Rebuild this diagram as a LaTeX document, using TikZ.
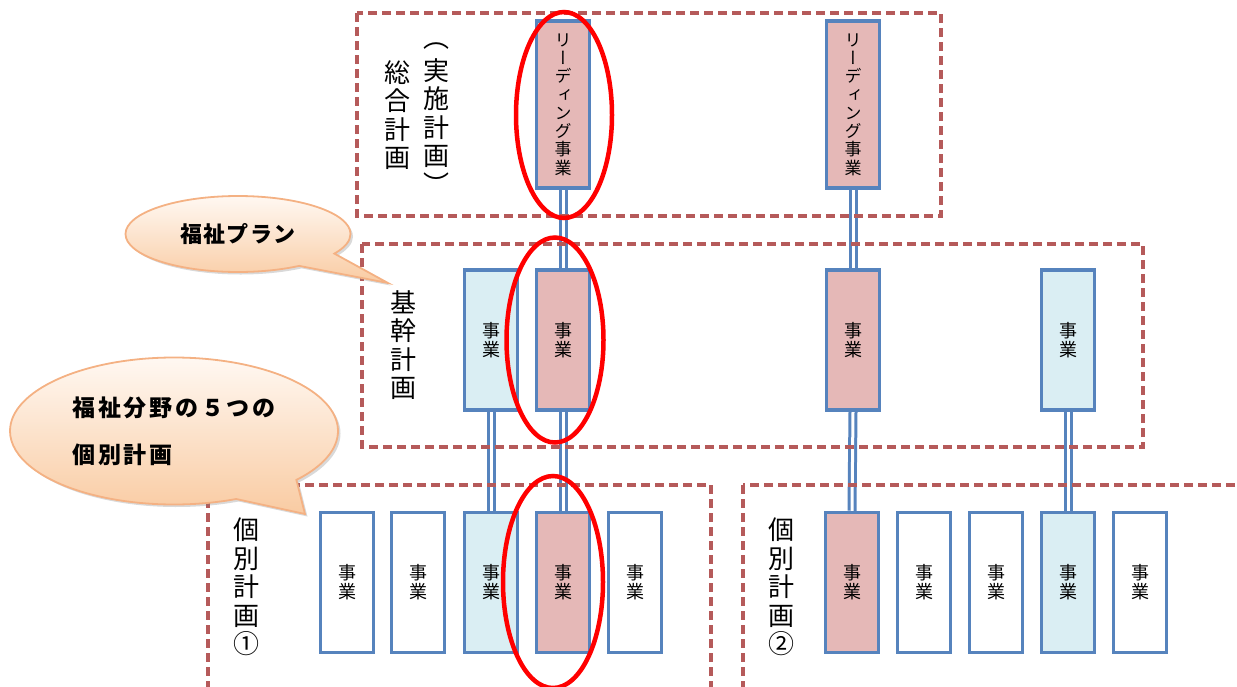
\documentclass[tikz,border=0pt]{standalone}
\usepackage{fontspec}
\setmainfont{Noto Sans CJK JP}
\newfontfamily\tate[RawFeature={+vert}]{Noto Sans CJK JP}
\usepackage{xcolor}
\usepackage{tikz}
\usetikzlibrary{positioning, shapes.geometric, shapes.callouts, shadows, backgrounds}

\definecolor{framered}{HTML}{B55A5A}
\definecolor{boxline}{HTML}{5683BD}
\definecolor{bizpinkfill}{HTML}{E5B8B7}
\definecolor{bizbluefill}{HTML}{DAEEF3}
\definecolor{bubbleline}{HTML}{F4B183}
\definecolor{bubbletop}{HTML}{FFF8F2}
\definecolor{bubblebottom}{HTML}{F9CBA2}

\tikzset{
    planframe/.style={draw=framered, line width=3.3pt, dash pattern=on 9pt off 5pt},
    biz/.style={draw=boxline, line width=3.5pt, fill=white, minimum width=53pt, minimum height=140pt,
        inner sep=0pt, align=center, font=\tate\fontsize{18}{19}\selectfont},
    bizpink/.style={biz, fill=bizpinkfill},
    bizblue/.style={biz, fill=bizbluefill},
    leadbiz/.style={bizpink, minimum height=167pt, font=\tate\fontsize{17}{18.3}\selectfont},
    link/.style={draw=boxline, line width=3pt, double=white, double distance=3pt},
    redring/.style={ellipse, draw=red, line width=4.5pt, inner sep=0pt},
    plantitle/.style={align=center, inner sep=0pt, font=\tate\fontsize{26}{28.5}\selectfont},
    bubble/.style={ellipse callout, draw=bubbleline, line width=1.8pt, top color=bubbletop,
        bottom color=bubblebottom, drop shadow={shadow xshift=2.5pt, shadow yshift=-2.5pt, opacity=0.3},
        inner sep=0pt, callout pointer arc=26}
}

\begin{document}
\begin{tikzpicture}[x=1pt, y=-1pt]
    \useasboundingbox (0,0) rectangle (1237,686);
    \clip (0,0) rectangle (1237,686);

    % dashed plan frames
    \draw[planframe] (357,13) rectangle (941,216);
    \draw[planframe] (362,244) rectangle (1143,447);
    \draw[planframe] (208,485) rectangle (711,700);
    \draw[planframe] (743,485) rectangle (1250,700);

    % frame titles
    \node[plantitle] (sogo) at (397,115) {総\\合\\計\\画};
    \node[plantitle] (jisshi) at (436,113) {実\\施\\計\\画};
    \node[plantitle] (jisshiL) at (436,46) {（};
    \node[plantitle] (jisshiR) at (436,184) {）};
    \node[plantitle] (kikan) at (403,345) {基\\幹\\計\\画};
    \node[plantitle] (kobetsu1) at (246,587) {個\\別\\計\\画\\①};
    \node[plantitle] (kobetsu2) at (781,587) {個\\別\\計\\画\\②};

    % leading projects
    \node[leadbiz] (lead1) at (563,104.5) {リ\\ー\\デ\\ィ\\ン\\グ\\事\\業};
    \node[leadbiz] (lead2) at (853,104.5) {リ\\ー\\デ\\ィ\\ン\\グ\\事\\業};

    % basic plan
    \node[bizblue] (kikan1) at (491,340) {事\\業};
    \node[bizpink] (kikan2) at (563,340) {事\\業};
    \node[bizpink] (kikan3) at (853,340) {事\\業};
    \node[bizblue] (kikan4) at (1068,340) {事\\業};

    % individual plan 1
    \node[biz] (ko1a) at (347,582.5) {事\\業};
    \node[biz] (ko1b) at (418,582.5) {事\\業};
    \node[bizblue] (ko1c) at (491,582.5) {事\\業};
    \node[bizpink] (ko1d) at (563,582.5) {事\\業};
    \node[biz] (ko1e) at (635,582.5) {事\\業};

    % individual plan 2
    \node[bizpink] (ko2a) at (852,582.5) {事\\業};
    \node[biz] (ko2b) at (924,582.5) {事\\業};
    \node[biz] (ko2c) at (996,582.5) {事\\業};
    \node[bizblue] (ko2d) at (1068,582.5) {事\\業};
    \node[biz] (ko2e) at (1140,582.5) {事\\業};

    \begin{scope}[on background layer]
        \draw[link] (lead1.south) -- (kikan2.north);
        \draw[link] (kikan2.south) -- (ko1d.north);
        \draw[link] (kikan1.south) -- (ko1c.north);
        \draw[link] (lead2.south) -- (kikan3.north);
        \draw[link] (kikan3.south) -- (ko2a.north);
        \draw[link] (kikan4.south) -- (ko2d.north);
    \end{scope}

    % red rings
    \node[redring, minimum width=96pt, minimum height=206pt] (ring1) at (564,115) {};
    \node[redring, minimum width=97pt, minimum height=205pt] (ring2) at (555,340) {};
    \node[redring, minimum width=100pt, minimum height=212pt] (ring3) at (553,582) {};

    % callouts
    \node[bubble, minimum width=225pt, minimum height=76pt, callout absolute pointer={(388,283)},
        font=\bfseries\fontsize{22}{26}\selectfont\addfontfeature{LetterSpace=6}] (plan) at (238,234) {福祉プラン};
    \node[bubble, minimum width=328pt, minimum height=147pt, callout absolute pointer={(305,514)},
        align=left, font=\bfseries\fontsize{23}{47}\selectfont\addfontfeature{LetterSpace=12}]
        (five) at (174,431) {福祉分野の５つの\\個別計画};
\end{tikzpicture}
\end{document}
